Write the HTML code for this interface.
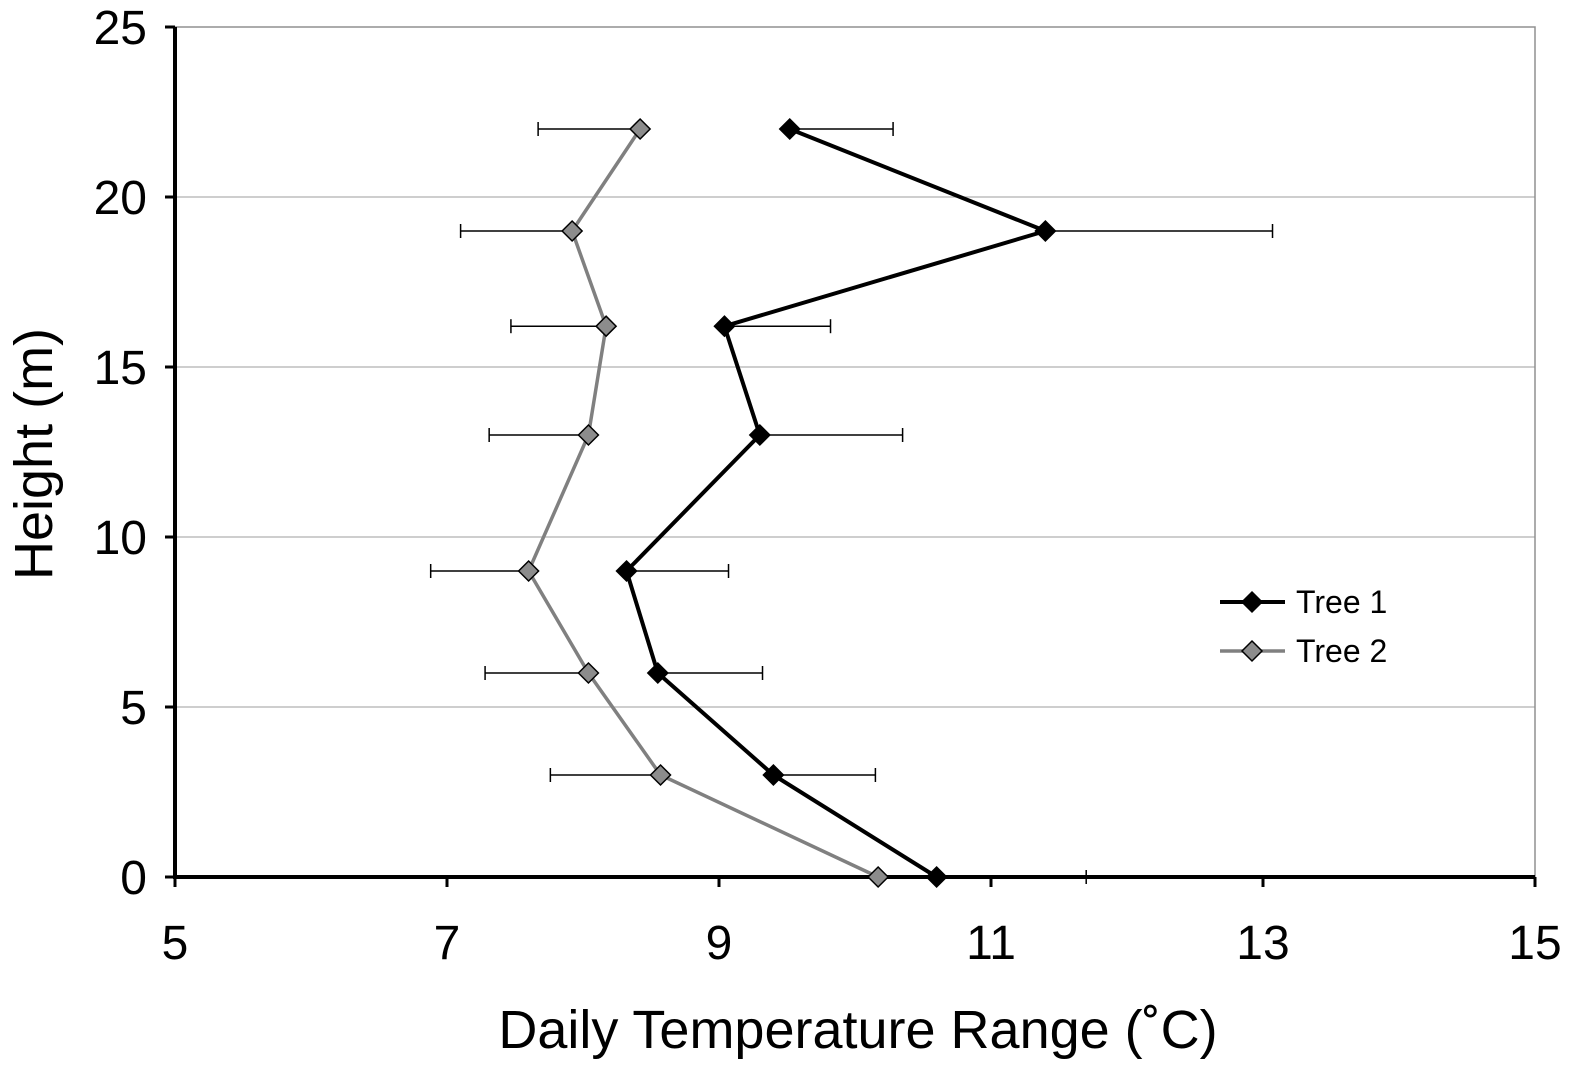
<!DOCTYPE html>
<html><head><meta charset="utf-8"><style>
body{margin:0;background:#fff}
svg{display:block;font-family:"Liberation Sans",Arial,sans-serif}
</style></head><body>
<svg id="chart" width="1593" height="1084" viewBox="0 0 1593 1084"></svg>
<script>
const heights=[22,19,16.2,13,9,6,3,0];
const tree1Values=[9.52,11.40,9.04,9.30,8.32,8.55,9.40,10.60];
const tree1Errors=[0.76,1.67,0.78,1.05,0.75,0.77,0.75,1.1];
const tree2Values=[8.42,7.92,8.17,8.04,7.60,8.04,8.57,10.17];
const tree2Errors=[0.75,0.82,0.70,0.73,0.72,0.76,0.81,0];
const xTicks=[5,7,9,11,13,15];
const yTicks=[0,5,10,15,20,25];

const L=175,R=1535,T=27,B=877;
const xMin=5,xMax=15,yMin=0,yMax=25;
const sx=v=>L+(v-xMin)/(xMax-xMin)*(R-L);
const sy=v=>B-(v-yMin)/(yMax-yMin)*(B-T);
const svg=document.getElementById('chart');
const NS='http://www.w3.org/2000/svg';
function mk(tag,attrs,parent){const e=document.createElementNS(NS,tag);for(const k in attrs)e.setAttribute(k,attrs[k]);(parent||svg).appendChild(e);return e;}

yTicks.forEach(t=>{if(t>0&&t<25){const g=mk('line',{x1:L,x2:R,y1:sy(t),y2:sy(t),stroke:'#b0b0b0','stroke-width':1.3});

}});
const fr=mk('path',{d:`M${L} ${T}H${R}V${B}`,fill:'none',stroke:'#909090','stroke-width':1.5});



function errBars(vals,errs,dir,name){
  vals.forEach((v,i)=>{
    if(!errs[i])return;
    const y=sy(heights[i]);const x2=sx(v+dir*errs[i]);
    const g=mk('g',{});
    
    
    mk('line',{x1:sx(v),x2:x2,y1:y,y2:y,stroke:'#000','stroke-width':1.5},g);
    mk('line',{x1:x2,x2:x2,y1:y-7,y2:y+7,stroke:'#000','stroke-width':1.5},g);
  });
}
errBars(tree1Values,tree1Errors,1,'tree1');
errBars(tree2Values,tree2Errors,-1,'tree2');

const ya=mk('line',{x1:L,x2:L,y1:T,y2:B,stroke:'#000','stroke-width':4});


const xa=mk('line',{x1:L-2,x2:R,y1:B,y2:B,stroke:'#000','stroke-width':4});



yTicks.forEach(t=>{
  mk('line',{x1:L-10,x2:L,y1:sy(t),y2:sy(t),stroke:'#000','stroke-width':3});
  const tx=mk('text',{x:L-28,y:sy(t)+17,'text-anchor':'end','font-size':48,fill:'#000'});
  tx.textContent=t;
  
  
});
xTicks.forEach(t=>{
  mk('line',{x1:sx(t),x2:sx(t),y1:B,y2:B+10,stroke:'#000','stroke-width':3});
  const tx=mk('text',{x:sx(t),y:B+82,'text-anchor':'middle','font-size':48,fill:'#000'});
  tx.textContent=t;
  
  
});

function series(vals,color,fill,name){
  const pts=vals.map((v,i)=>sx(v)+','+sy(heights[i])).join(' ');
  const pl=mk('polyline',{points:pts,fill:'none',stroke:color,'stroke-width':color==='#000'?4:3.5});
  
  
  vals.forEach((v,i)=>{
    const x=sx(v),y=sy(heights[i]);
    const d=mk('polygon',{points:`${x},${y-10} ${x+10},${y} ${x},${y+10} ${x-10},${y}`,fill:fill,stroke:'#000','stroke-width':1.5});
    
    
  });
}
series(tree2Values,'#808080','#8c8c8c','tree2');
series(tree1Values,'#000','#000','tree1');

function legend(y,color,fill,label,name){
  const g=mk('g',{});
  
  
  mk('line',{x1:1220,x2:1285,y1:y,y2:y,stroke:color,'stroke-width':color==='#000'?4:3.5},g);
  mk('polygon',{points:`1252,${y-10} 1262,${y} 1252,${y+10} 1242,${y}`,fill:fill,stroke:'#000','stroke-width':1.5},g);
  const t=mk('text',{x:1296,y:y+11,'font-size':32,fill:'#000'},g);t.textContent=label;
}
legend(602,'#000','#000','Tree 1','tree1');
legend(651,'#808080','#8c8c8c','Tree 2','tree2');

const xt=mk('text',{x:858,y:1048,'text-anchor':'middle','font-size':54,fill:'#000'});
xt.textContent='Daily Temperature Range (˚C)';


const yt=mk('text',{x:0,y:0,'text-anchor':'middle','font-size':54,fill:'#000',transform:'translate(52,454) rotate(-90)'});
yt.textContent='Height (m)';


</script>
</body></html>
